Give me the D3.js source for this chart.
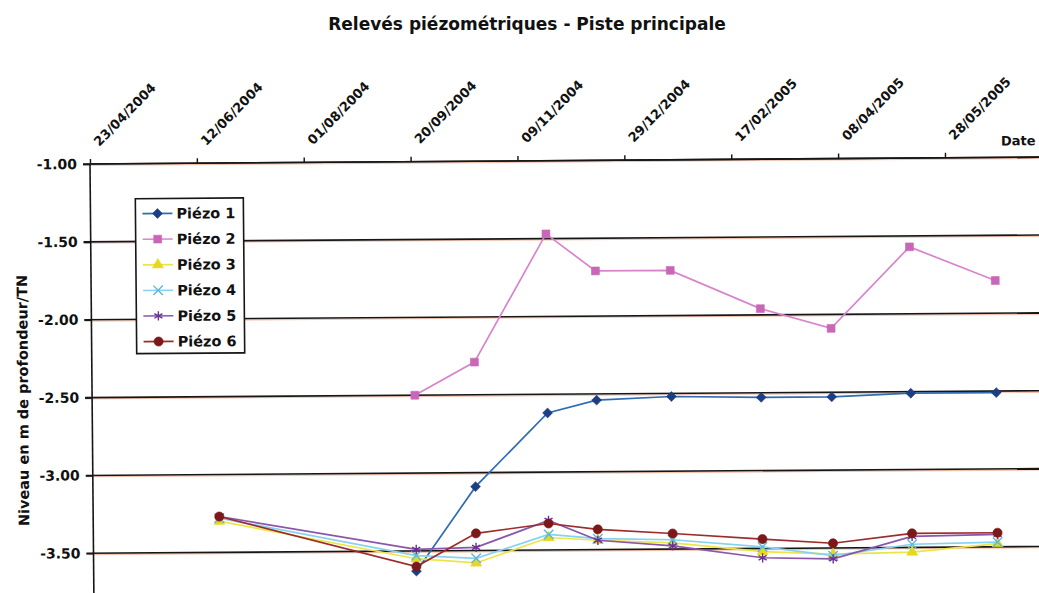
<!DOCTYPE html>
<html>
<head>
<meta charset="utf-8">
<script src="https://cdn.jsdelivr.net/npm/d3@7"></script>
<style>
html, body { margin: 0; padding: 0; background: #fff; }
svg { display: block; }
text { font-family: "DejaVu Sans", sans-serif; font-weight: bold; fill: #111; }
</style>
</head>
<body>
<svg id="chart" width="1039" height="593"></svg>
<script>
// ---------------- data ----------------
const chartTitle = "Relevés piézométriques - Piste principale";
const yAxisTitle = "Niveau en m de profondeur/TN";
const xAxisTitle = "Date";

const xTickLabels = ["23/04/2004", "12/06/2004", "01/08/2004", "20/09/2004", "09/11/2004",
                     "29/12/2004", "17/02/2005", "08/04/2005", "28/05/2005"];
const xDomainLabels = ["23/04/2004", "17/07/2005"];
const yTickValues = [-1.0, -1.5, -2.0, -2.5, -3.0, -3.5];
const yDomain = [-4.0, -1.0];

const measureDates = ["21/06/2004", "21/09/2004", "19/10/2004", "22/11/2004", "15/12/2004",
                      "19/01/2005", "02/03/2005", "04/04/2005", "11/05/2005", "20/06/2005"];

const seriesNames = ["Piézo 1", "Piézo 2", "Piézo 3", "Piézo 4", "Piézo 5", "Piézo 6"];
const piezo1 = [null, -3.63, -3.09, -2.62, -2.54, -2.52, -2.53, -2.53, -2.51, -2.51];
const piezo2 = [null, -2.50, -2.29, -1.47, -1.71, -1.71, -1.96, -2.09, -1.57, -1.79];
const piezo3 = [-3.30, -3.55, -3.58, -3.42, -3.44, -3.46, -3.52, -3.54, -3.53, -3.48];
const piezo4 = [-3.28, -3.53, -3.55, -3.40, -3.43, -3.44, -3.49, -3.55, -3.48, -3.47];
const piezo5 = [-3.27, -3.49, -3.48, -3.31, -3.44, -3.48, -3.56, -3.57, -3.43, -3.42];
const piezo6 = [-3.27, -3.60, -3.39, -3.33, -3.37, -3.40, -3.44, -3.47, -3.41, -3.41];
const seriesValues = [piezo1, piezo2, piezo3, piezo4, piezo5, piezo6];

// ---------------- styles ----------------
const lineColors   = ["#2f6cb4", "#d884cc", "#ece548", "#86d2f0", "#8a55ab", "#9c2b2b"];
const markerColors = ["#1b3f82", "#c866b8", "#e6d81e", "#5cb6e2", "#6a2f92", "#7c1818"];
const markerTypes  = [d3.symbolDiamond2 || d3.symbolDiamond, d3.symbolSquare, d3.symbolTriangle,
                      d3.symbolTimes || d3.symbolCross, d3.symbolAsterisk || d3.symbolCross, d3.symbolCircle];
const markerSizes  = [62, 62, 52, 60, 60, 66];
const markerStroked = [false, false, false, true, true, false];

// ---------------- layout ----------------
const W = 1039, H = 593;
const plotLeft = 90, plotTop = 164;
const pxPerDay = 2.1375;
const pxPerUnit = 155.7;

const parse = d3.timeParse("%d/%m/%Y");
const fmt = d3.timeFormat("%d/%m/%Y");

const svg = d3.select("#chart");
svg.append("rect").attr("width", W).attr("height", H).attr("fill", "#fff");

// title (outside the skewed scan group)
svg.append("text")
  .attr("x", 527).attr("y", 30)
  .attr("text-anchor", "middle")
  .style("font-size", "17px")
  .text(chartTitle);

const xStart = parse(xDomainLabels[0]), xEnd = parse(xDomainLabels[1]);
const spanDays = d3.timeDay.count(xStart, xEnd);
const x = d3.scaleTime().domain([xStart, xEnd]).range([plotLeft, plotLeft + spanDays * pxPerDay]);
const y = d3.scaleLinear().domain(yDomain).range([plotTop + (yDomain[1] - yDomain[0]) * pxPerUnit, plotTop]);

// slight skew of the scanned page
const g = svg.append("g")
  .attr("transform", `translate(${plotLeft},${plotTop}) matrix(1,-0.0072,0.009,1,0,0) translate(${-plotLeft},${-plotTop})`);

// gridlines (with faint scan halo)
const gridG = g.append("g");
yTickValues.forEach(v => {
  gridG.append("line")
    .attr("x1", plotLeft - 7).attr("x2", x.range()[1] + 20)
    .attr("y1", y(v) + 1.3).attr("y2", y(v) + 1.3)
    .attr("stroke", "#f3c2ae").attr("stroke-width", 1.2);
  gridG.append("line")
    .attr("x1", plotLeft - 7).attr("x2", x.range()[1] + 20)
    .attr("y1", y(v)).attr("y2", y(v))
    .attr("stroke", "#161616").attr("stroke-width", 1.6);
});

// y axis
const yAxis = g.append("g")
  .attr("transform", `translate(${plotLeft},0)`)
  .call(d3.axisLeft(y).tickValues(yTickValues).tickSize(7).tickPadding(6)
        .tickFormat(d => d.toFixed(2)));
yAxis.select(".domain").attr("stroke", "#161616").attr("stroke-width", 1.6);
yAxis.selectAll(".tick line").attr("stroke", "#161616").attr("stroke-width", 1.6);
yAxis.selectAll(".tick text")
  .style("font-family", "'DejaVu Sans', sans-serif")
  .style("font-weight", "bold")
  .style("font-size", "14px")
  .attr("fill", "#111");
yAxis.select(".domain").attr("d", `M0,${y(yDomain[1])}V${y(yDomain[0])}`);

// x axis on top (crosses at -1.00)
const xTicks = xTickLabels.map(parse);
const xAxis = g.append("g")
  .attr("transform", `translate(0,${y(yDomain[1])})`)
  .call(d3.axisTop(x).tickValues(xTicks).tickSize(5).tickFormat(fmt));
xAxis.select(".domain").attr("d", `M${plotLeft},0H${x.range()[1] + 20}`)
  .attr("stroke", "#161616").attr("stroke-width", 1.6);
xAxis.selectAll(".tick line").attr("stroke", "#161616").attr("stroke-width", 1.4);
xAxis.selectAll(".tick text")
  .attr("x", 0).attr("y", 0).attr("dy", 0)
  .attr("text-anchor", "start")
  .attr("transform", "translate(9,-17) rotate(-45)")
  .style("font-family", "'DejaVu Sans', sans-serif")
  .style("font-weight", "bold")
  .style("font-size", "13px")
  .attr("fill", "#111");

g.append("text")
  .attr("x", 1001).attr("y", 152)
  .style("font-size", "13px")
  .text(xAxisTitle);

// y axis title
g.append("text")
  .attr("transform", `translate(26,${400}) rotate(-90)`)
  .attr("text-anchor", "middle")
  .style("font-size", "14.5px")
  .text(yAxisTitle);

// legend
const legendX = 135, legendY = 199, legendW = 108, legendH = 155, legendStep = 25.6;
const lg = g.append("g");
lg.append("rect").attr("x", legendX).attr("y", legendY).attr("width", legendW).attr("height", legendH)
  .attr("fill", "#fff").attr("stroke", "#161616").attr("stroke-width", 1.6);

function drawMarker(sel, i) {
  sel.attr("d", d3.symbol().type(markerTypes[i]).size(markerSizes[i])());
  if (markerStroked[i]) {
    sel.attr("fill", "none").attr("stroke", markerColors[i]).attr("stroke-width", 1.4);
  } else {
    sel.attr("fill", markerColors[i]).attr("stroke", markerColors[i]).attr("stroke-width", 0.6);
  }
}

seriesNames.forEach((name, i) => {
  const cy = legendY + 15 + i * legendStep;
  lg.append("line").attr("x1", legendX + 7).attr("x2", legendX + 37)
    .attr("y1", cy).attr("y2", cy).attr("stroke", lineColors[i]).attr("stroke-width", 1.6);
  lg.append("path").attr("transform", `translate(${legendX + 22},${cy})`).call(drawMarker, i);
  lg.append("text").attr("x", legendX + 41).attr("y", cy).attr("dy", "0.36em")
    .style("font-size", "14.5px").text(name);
});

// series
const dates = measureDates.map(parse);
const line = d3.line()
  .defined(d => d.v !== null)
  .x(d => x(d.date))
  .y(d => y(d.v));

seriesValues.forEach((vals, i) => {
  const pts = vals.map((v, k) => ({ date: dates[k], v }));
  const sg = g.append("g");
  sg.append("path").datum(pts)
    .attr("d", line)
    .attr("fill", "none")
    .attr("stroke", lineColors[i])
    .attr("stroke-width", 1.7);
  sg.selectAll("path.m").data(pts.filter(d => d.v !== null)).join("path")
    .attr("class", "m")
    .attr("transform", d => `translate(${x(d.date)},${y(d.v)})`)
    .call(drawMarker, i);
});
</script>
</body>
</html>
